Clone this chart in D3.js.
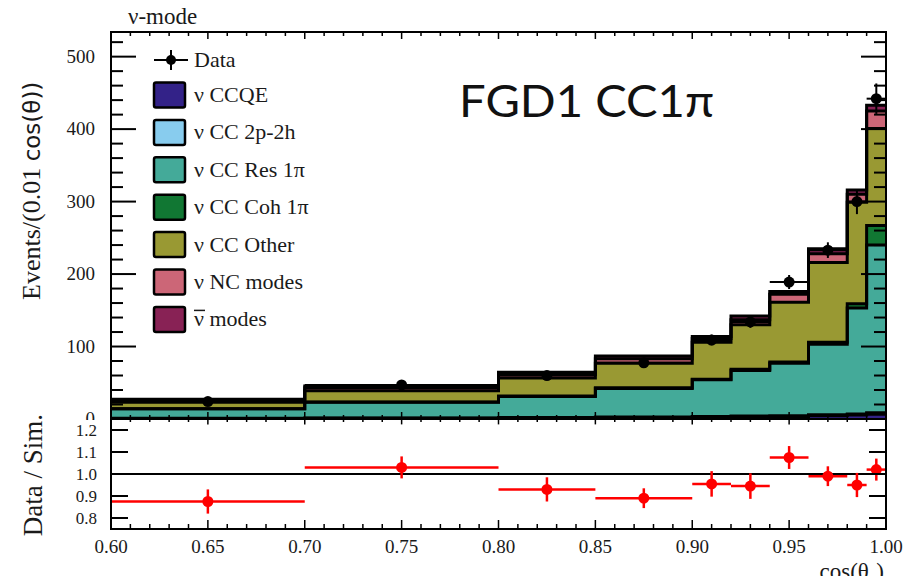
<!DOCTYPE html>
<html><head><meta charset="utf-8">
<script src="https://cdn.jsdelivr.net/npm/d3@7"></script>
<style>body{margin:0;background:#fff}svg{display:block}</style>
</head><body>
<svg id="c" width="905" height="576"></svg>
<script>
// ---- data ----
const binEdges = [0.60, 0.70, 0.80, 0.85, 0.90, 0.92, 0.94, 0.96, 0.98, 0.99, 1.00];
const ccqe  = [0.8, 1.0, 1.5, 2.0, 2.5, 3.0, 3.5, 4.5, 5.5, 6.5];
const cc2p2h = [0.3, 0.4, 0.5, 0.6, 0.8, 1.0, 1.0, 1.2, 1.5, 2.0];
const ccRes = [12.9, 21.6, 29.0, 39.4, 50.7, 63.0, 72.5, 97.3, 146.0, 231.5];
const ccCoh = [0.3, 0.5, 0.8, 1.0, 1.0, 1.5, 1.5, 3.0, 6.0, 27.0];
const ccOther = [8.7, 15.5, 24.7, 34.0, 51.0, 61.5, 82.5, 110.0, 140.0, 134.0];
const ncModes = [2.5, 4.0, 5.0, 6.0, 5.0, 7.0, 11.0, 12.0, 11.0, 24.0];
const antiNu = [1.9, 2.6, 3.0, 4.0, 3.0, 5.0, 4.0, 7.0, 6.0, 8.0];
const dataVals = [24, 47, 60, 77.5, 109, 134, 189, 233, 300, 442];
const dataErr = [1.6, 2.2, 3.5, 3.9, 7.4, 8.2, 9.7, 10.8, 17.3, 21.0];
const ratioVals = [0.875, 1.03, 0.93, 0.89, 0.955, 0.945, 1.075, 0.99, 0.95, 1.02];
const ratioErr = [0.055, 0.05, 0.055, 0.045, 0.058, 0.058, 0.052, 0.045, 0.055, 0.05];
const seriesNames = ["\u03bd CCQE", "\u03bd CC 2p-2h", "\u03bd CC Res 1\u03c0", "\u03bd CC Coh 1\u03c0", "\u03bd CC Other", "\u03bd NC modes", "\u03bd modes"];
const seriesColors = ["#332288", "#88ccee", "#44aa99", "#117733", "#999933", "#cc6677", "#882255"];
const yTicksTop = [100, 200, 300, 400, 500];
const yTicksRatio = [0.8, 0.9, 1.0, 1.1, 1.2];
const xTickLabels = ["0.60", "0.65", "0.70", "0.75", "0.80", "0.85", "0.90", "0.95", "1.00"];

const series = [ccqe, cc2p2h, ccRes, ccCoh, ccOther, ncModes, antiNu];

// ---- layout ----
const svg = d3.select("#c");
const L = 111, R = 886, T = 32, M = 419, B = 529;
const serif = "'Liberation Serif', 'Times New Roman', serif";
const x = d3.scaleLinear().domain([0.6, 1.0]).range([L, R]);
const y = d3.scaleLinear().domain([0, 534]).range([M, T]);
const yr = d3.scaleLinear().domain([0.75, 1.25]).range([B, M]);

// stack
const nb = dataVals.length;
const rows = d3.range(nb).map(i => { const o = {}; series.forEach((s, k) => o["s" + k] = s[i]); return o; });
const stacked = d3.stack().keys(series.map((s, k) => "s" + k))(rows);

function stepPts(layer) {
  const pts = [];
  layer.forEach((d, i) => { pts.push({x: binEdges[i], d}); pts.push({x: binEdges[i + 1], d}); });
  return pts;
}
svg.append("clipPath").attr("id", "clipTop").append("rect").attr("x", L).attr("y", T).attr("width", R - L).attr("height", M - T);
const gTop = svg.append("g").attr("clip-path", "url(#clipTop)");
const area = d3.area().x(p => x(p.x)).y0(p => y(p.d[0])).y1(p => y(p.d[1]));
stacked.forEach((layer, k) => {
  gTop.append("path").attr("d", area(stepPts(layer))).attr("fill", seriesColors[k]);
});
const line = d3.line().x(p => x(p.x)).y(p => y(p.d[1]));
stacked.forEach((layer) => {
  gTop.append("path").attr("d", line(stepPts(layer))).attr("fill", "none").attr("stroke", "#000").attr("stroke-width", 3);
});

// data points
const gData = svg.append("g");
dataVals.forEach((v, i) => {
  const cx = x((binEdges[i] + binEdges[i + 1]) / 2);
  gData.append("line").attr("x1", x(binEdges[i])).attr("x2", x(binEdges[i + 1])).attr("y1", y(v)).attr("y2", y(v)).attr("stroke", "#000").attr("stroke-width", 2);
  gData.append("line").attr("x1", cx).attr("x2", cx).attr("y1", y(v - dataErr[i])).attr("y2", y(v + dataErr[i])).attr("stroke", "#000").attr("stroke-width", 2);
  gData.append("circle").attr("cx", cx).attr("cy", y(v)).attr("r", 5.5).attr("fill", "#000");
});

// top axes
const gAx = svg.append("g").attr("stroke", "#000").attr("fill", "none");
gAx.append("rect").attr("x", L).attr("y", T).attr("width", R - L).attr("height", M - T).attr("stroke-width", 2);
d3.range(20, 534, 20).forEach(v => {
  const len = (v % 100 === 0) ? 25 : 12;
  gAx.append("line").attr("x1", L).attr("x2", L + len).attr("y1", y(v)).attr("y2", y(v)).attr("stroke-width", 2);
  gAx.append("line").attr("x1", R).attr("x2", R - len).attr("y1", y(v)).attr("y2", y(v)).attr("stroke-width", 2);
});
d3.range(0, 41).forEach(j => {
  const v = 0.6 + j * 0.01;
  const len = (j % 5 === 0) ? 7 : 4;
  gAx.append("line").attr("x1", x(v)).attr("x2", x(v)).attr("y1", M).attr("y2", M - len).attr("stroke-width", 1.5);
  gAx.append("line").attr("x1", x(v)).attr("x2", x(v)).attr("y1", T).attr("y2", T + len).attr("stroke-width", 1.5);
});
const gLab = svg.append("g").attr("font-family", serif).attr("fill", "#1a1a1a");
yTicksTop.concat([0]).forEach(v => {
  gLab.append("text").attr("x", 95).attr("y", y(v) + 6).attr("text-anchor", "end").attr("font-size", 19).text(v);
});

// legend
const lg = svg.append("g").attr("font-family", serif).attr("font-size", 22).attr("fill", "#1a1a1a");
lg.append("line").attr("x1", 154).attr("x2", 188).attr("y1", 60).attr("y2", 60).attr("stroke", "#000").attr("stroke-width", 2);
lg.append("line").attr("x1", 171).attr("x2", 171).attr("y1", 50).attr("y2", 70).attr("stroke", "#000").attr("stroke-width", 2);
lg.append("circle").attr("cx", 171).attr("cy", 60).attr("r", 5).attr("fill", "#000");
lg.append("text").attr("x", 194).attr("y", 67).text("Data");
seriesNames.forEach((n, k) => {
  const cy = 95 + k * 37.4;
  lg.append("rect").attr("x", 154).attr("y", cy - 12.5).attr("width", 31).attr("height", 25).attr("rx", 2)
    .attr("fill", seriesColors[k]).attr("stroke", "#000").attr("stroke-width", 2.5);
  const t = lg.append("text").attr("x", 194).attr("y", cy + 7);
  if (k === 6) {
    t.append("tspan").text("\u03bd");
    t.append("tspan").text(" modes");
    lg.append("line").attr("x1", 194).attr("x2", 205).attr("y1", cy - 9).attr("y2", cy - 9).attr("stroke", "#1a1a1a").attr("stroke-width", 1.5);
  } else t.text(n);
});

// headline texts
svg.append("text").attr("x", 459).attr("y", 117).attr("font-family", "Lato, sans-serif").attr("font-size", 44)
  .attr("textLength", 255).attr("lengthAdjust", "spacingAndGlyphs").attr("fill", "#111").text("FGD1 CC1\u03c0");
svg.append("text").attr("x", 128).attr("y", 24).attr("font-family", serif).attr("font-size", 23).attr("fill", "#1a1a1a").text("\u03bd-mode");
const yt = svg.append("text").attr("transform", "translate(40,300) rotate(-90)").attr("font-family", serif).attr("font-size", 26).attr("fill", "#1a1a1a");
yt.append("tspan").text("Events/(0.01 ");
yt.append("tspan").attr("font-family", "'DejaVu Sans', sans-serif").attr("font-size", 23).text("cos(\u03b8))");

// cover below top pad (clips the "0" label)
svg.append("rect").attr("x", 0).attr("y", M + 1).attr("width", 905).attr("height", 576 - M).attr("fill", "#fff");

// ratio panel
const gR = svg.append("g");
gR.append("line").attr("x1", L).attr("x2", R).attr("y1", yr(1)).attr("y2", yr(1)).attr("stroke", "#000").attr("stroke-width", 2);
ratioVals.forEach((v, i) => {
  const cx = x((binEdges[i] + binEdges[i + 1]) / 2);
  gR.append("line").attr("x1", x(binEdges[i])).attr("x2", x(binEdges[i + 1])).attr("y1", yr(v)).attr("y2", yr(v)).attr("stroke", "#ff0000").attr("stroke-width", 2.5);
  gR.append("line").attr("x1", cx).attr("x2", cx).attr("y1", yr(v - ratioErr[i])).attr("y2", yr(v + ratioErr[i])).attr("stroke", "#ff0000").attr("stroke-width", 2.5);
  gR.append("circle").attr("cx", cx).attr("cy", yr(v)).attr("r", 5.5).attr("fill", "#ff0000");
});
const gRA = svg.append("g").attr("stroke", "#000").attr("fill", "none");
gRA.append("rect").attr("x", L).attr("y", M).attr("width", R - L).attr("height", B - M).attr("stroke-width", 2);
const lab2 = svg.append("g").attr("font-family", serif).attr("fill", "#1a1a1a");
yTicksRatio.forEach(v => {
  gRA.append("line").attr("x1", L).attr("x2", L + 17).attr("y1", yr(v)).attr("y2", yr(v)).attr("stroke-width", 2);
  gRA.append("line").attr("x1", R).attr("x2", R - 17).attr("y1", yr(v)).attr("y2", yr(v)).attr("stroke-width", 2);
  lab2.append("text").attr("x", 97).attr("y", yr(v) + 6).attr("text-anchor", "end").attr("font-size", 17).text(v.toFixed(1));
});
d3.range(0, 41).forEach(j => {
  const v = 0.6 + j * 0.01;
  const len = (j % 5 === 0) ? 9 : 5;
  gRA.append("line").attr("x1", x(v)).attr("x2", x(v)).attr("y1", B).attr("y2", B - len).attr("stroke-width", 1.5);
  gRA.append("line").attr("x1", x(v)).attr("x2", x(v)).attr("y1", M).attr("y2", M + len * 0.6).attr("stroke-width", 1.5);
});
xTickLabels.forEach(s => {
  lab2.append("text").attr("x", x(+s)).attr("y", 553).attr("text-anchor", "middle").attr("font-size", 19).text(s);
});
const xt = lab2.append("text").attr("x", 884).attr("y", 579).attr("text-anchor", "end").attr("font-size", 23);
xt.append("tspan").text("cos(\u03b8");
xt.append("tspan").attr("font-size", 14).attr("dy", 5).text("\u03bc");
xt.append("tspan").attr("dy", -5).text(")");
lab2.append("text").attr("transform", "translate(42,475) rotate(-90)").attr("text-anchor", "middle").attr("font-size", 27).text("Data / Sim.");
</script>
</body></html>
